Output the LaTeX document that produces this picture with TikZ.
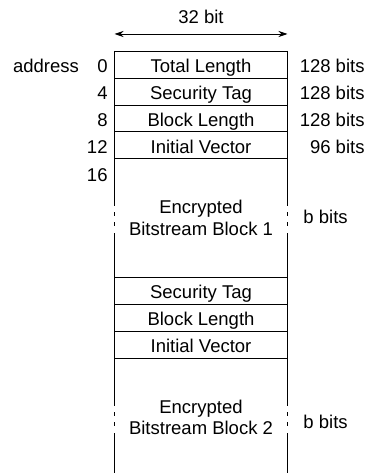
\documentclass[tikz,border=0pt]{standalone}
\usepackage{fontspec}
\setmainfont{Liberation Sans}
\usetikzlibrary{arrows.meta}

\begin{document}
\begin{tikzpicture}[x=1pt, y=-1pt, line width=0.9pt,
        font=\fontsize{18.5}{21}\selectfont,
        field/.style={anchor=base, inner sep=0pt},
        addr/.style={anchor=base east, inner sep=0pt},
        size/.style={anchor=base east, inner sep=0pt},
        bsize/.style={anchor=base west, inner sep=0pt}]
        \useasboundingbox (0,0) rectangle (371,473);
        \pgfmathsetmacro{\lx}{114.5}
        \pgfmathsetmacro{\rx}{287.5}
        \pgfmathsetmacro{\mx}{201}

        % width arrow
        \node[field] (width) at (\mx, 24) {32 bit};
        \coordinate (WL) at (\lx, 34);
        \coordinate (WR) at (\rx, 34);
        \draw[{Stealth[length=9pt, width=6pt]}-{Stealth[length=9pt, width=6pt]}] (WL) -- (WR);

        % horizontal lines
        \foreach \y in {51, 78, 105, 131.5, 158.5, 277, 304, 331, 358}
            \draw (\lx, \y) -- (\rx, \y);

        % side lines, broken inside the bitstream blocks
        \foreach \x in {\lx, \rx} {
            \draw (\x, 51) -- (\x, 206);
            \draw[dash pattern=on 4pt off 6pt] (\x, 212) -- (\x, 226);
            \draw (\x, 233) -- (\x, 406);
            \draw[dash pattern=on 4pt off 6pt] (\x, 412) -- (\x, 426);
            \draw (\x, 433) -- (\x, 473);
        }

        % fields
        \node[field] (len) at (\mx, 72.7) {Total Length};
        \node[field] (tag1) at (\mx, 99.7) {Security Tag};
        \node[field] (blen1) at (\mx, 126.7) {Block Length};
        \node[field] (iv1) at (\mx, 153.2) {Initial Vector};
        \node[field] (enc1) at (\mx, 213.3) {Encrypted};
        \node[field] (bsb1) at (\mx, 235) {Bitstream Block 1};
        \node[field] (tag2) at (\mx, 298.7) {Security Tag};
        \node[field] (blen2) at (\mx, 325.7) {Block Length};
        \node[field] (iv2) at (\mx, 352.7) {Initial Vector};
        \node[field] (enc2) at (\mx, 413) {Encrypted};
        \node[field] (bsb2) at (\mx, 434.5) {Bitstream Block 2};

        % addresses
        \node[field] (address) at (46, 72.7) {address};
        \node[addr] (a0) at (108, 72.7) {0};
        \node[addr] (a4) at (108, 99.7) {4};
        \node[addr] (a8) at (108, 126.7) {8};
        \node[addr] (a12) at (108, 153.2) {12};
        \node[addr] (a16) at (108, 181) {16};

        % sizes
        \node[size] (s0) at (365, 72.7) {128 bits};
        \node[size] (s4) at (365, 99.7) {128 bits};
        \node[size] (s8) at (365, 126.7) {128 bits};
        \node[size] (s12) at (365, 153.2) {96 bits};
        \node[bsize] (b1) at (303, 223.5) {b bits};
        \node[bsize] (b2) at (303, 428.5) {b bits};

    \end{tikzpicture}
\end{document}
